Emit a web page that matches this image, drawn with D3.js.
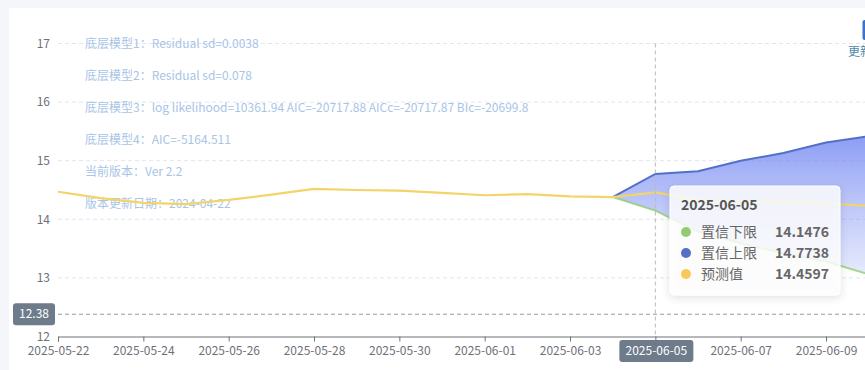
<!DOCTYPE html>
<html><head><meta charset="utf-8">
<script src="https://cdn.jsdelivr.net/npm/d3@7/dist/d3.min.js"></script>
<style>
html,body{margin:0;padding:0;background:#f4f6fa;overflow:hidden;}
svg{display:block;font-family:"Noto Sans CJK SC","Noto Sans",sans-serif;}
</style></head>
<body>
<svg id="c" width="865" height="370"></svg>
<script>
const dates = ['2025-05-22','2025-05-23','2025-05-24','2025-05-25','2025-05-26','2025-05-27','2025-05-28','2025-05-29','2025-05-30','2025-05-31','2025-06-01','2025-06-02','2025-06-03','2025-06-04','2025-06-05','2025-06-06','2025-06-07','2025-06-08','2025-06-09','2025-06-10'];
const predicted = [14.47,14.36,14.28,14.26,14.33,14.42,14.52,14.50,14.49,14.45,14.41,14.43,14.39,14.38,14.4597,14.33,14.29,14.29,14.27,14.23];
const upper = [null,null,null,null,null,null,null,null,null,null,null,null,null,14.38,14.7738,14.82,15.00,15.13,15.31,15.42];
const lower = [null,null,null,null,null,null,null,null,null,null,null,null,null,14.38,14.1476,13.79,13.59,13.42,13.28,13.06];
const yTicks = [12,13,14,15,16,17];
const xTickLabels = ['2025-05-22','2025-05-24','2025-05-26','2025-05-28','2025-05-30','2025-06-01','2025-06-03','2025-06-05','2025-06-07','2025-06-09'];
const notes = ['底层模型1：Residual sd=0.0038','底层模型2：Residual sd=0.078','底层模型3：log likelihood=10361.94 AIC=-20717.88 AICc=-20717.87 BIc=-20699.8','底层模型4：AIC=-5164.511','当前版本：Ver 2.2','版本更新日期：2024-04-22'];
const hoverDate = '2025-06-05';
const hoverY = 12.38;
const seriesNames = ['置信下限','置信上限','预测值'];
const seriesColors = ['#91cc75','#5470c6','#fac858'];

const parse = d3.utcParse('%Y-%m-%d');
const fmt = d3.utcFormat('%Y-%m-%d');
const svg = d3.select('#c');
svg.append('rect').attr('x',9).attr('y',8).attr('width',900).attr('height',400).attr('fill','#fff');

const x = d3.scaleUtc().domain([parse('2025-05-22'), parse('2025-06-10')]).range([58, 868.7]);
const y = d3.scaleLinear().domain([12,17]).range([336.5,43.5]);

const defs = svg.append('defs');
const grad = defs.append('linearGradient').attr('id','bandGrad').attr('x1',0).attr('y1',0).attr('x2',0).attr('y2',1);
grad.append('stop').attr('offset','0%').attr('stop-color','#6f84f2').attr('stop-opacity',0.8);
grad.append('stop').attr('offset','100%').attr('stop-color','#8e9ff5').attr('stop-opacity',0.22);
const sh = defs.append('filter').attr('id','shadow').attr('x','-20%').attr('y','-20%').attr('width','140%').attr('height','150%');
sh.append('feDropShadow').attr('dx',0).attr('dy',2).attr('stdDeviation',4).attr('flood-color','#000').attr('flood-opacity',0.15);

// grid
svg.append('g').selectAll('line').data(yTicks.filter(d=>d>12)).join('line')
  .attr('x1',58).attr('x2',870).attr('y1',d=>y(d)).attr('y2',d=>y(d))
  .attr('stroke','#e0e6f1').attr('stroke-dasharray','4,3');

// y labels
svg.append('g').selectAll('text').data(yTicks).join('text')
  .attr('x',50).attr('y',d=>y(d)).attr('dy','0.35em').attr('text-anchor','end')
  .attr('font-size',12).attr('fill','#6e7079').text(d=>d);

// notes
svg.append('g').selectAll('text').data(notes).join('text')
  .attr('x',85).attr('y',(d,i)=>44+i*32).attr('dy','0.35em')
  .attr('font-size',12).attr('fill','#a9c4e6').text(d=>d);

const rows = dates.map((d,i)=>({date:parse(d), p:predicted[i], u:upper[i], l:lower[i]}));
const band = rows.filter(r=>r.u!=null);

svg.append('path').datum(band)
  .attr('d', d3.area().x(r=>x(r.date)).y0(r=>y(r.l)).y1(r=>y(r.u)))
  .attr('fill','url(#bandGrad)');

svg.append('path').datum(band)
  .attr('d', d3.line().x(r=>x(r.date)).y(r=>y(r.l)))
  .attr('fill','none').attr('stroke',seriesColors[0]).attr('stroke-width',2).attr('stroke-opacity',0.8);
svg.append('path').datum(band)
  .attr('d', d3.line().x(r=>x(r.date)).y(r=>y(r.u)))
  .attr('fill','none').attr('stroke',seriesColors[1]).attr('stroke-width',2);
svg.append('path').datum(rows)
  .attr('d', d3.line().x(r=>x(r.date)).y(r=>y(r.p)))
  .attr('fill','none').attr('stroke','#f3d46a').attr('stroke-width',2.2);

// crosshair
svg.append('line').attr('x1',x(parse(hoverDate))).attr('x2',x(parse(hoverDate))).attr('y1',y(17)).attr('y2',y(12))
  .attr('stroke','#bbb').attr('stroke-dasharray','4,3');
svg.append('line').attr('x1',58).attr('x2',870).attr('y1',y(hoverY)).attr('y2',y(hoverY))
  .attr('stroke','#999').attr('stroke-dasharray','4,3');

// x axis
const xa = svg.append('g').attr('transform',`translate(0,${y(12)})`)
  .call(d3.axisBottom(x).tickValues(xTickLabels.map(parse)).tickFormat(fmt).tickSizeOuter(0).tickSize(5));
xa.select('.domain').attr('stroke','#6e7079');
xa.selectAll('.tick line').attr('stroke','#6e7079');
xa.selectAll('.tick text').attr('fill','#6e7079').attr('font-size',12).attr('dy','0.9em')
  .attr('font-family','"Noto Sans CJK SC","Noto Sans",sans-serif')
  .style('display',d=>fmt(d)===hoverDate?'none':null);

// axis pointer labels
const hx = x(parse(hoverDate));
svg.append('rect').attr('x',hx-36).attr('y',340).attr('width',74).attr('height',22).attr('rx',3).attr('fill','#6e7b8b');
svg.append('text').attr('x',hx+1).attr('y',351).attr('dy','0.35em').attr('text-anchor','middle').attr('fill','#fff').attr('font-size',12).text(hoverDate);
svg.append('rect').attr('x',13).attr('y',y(hoverY)-11).attr('width',42).attr('height',22).attr('rx',3).attr('fill','#6e7b8b');
svg.append('text').attr('x',34).attr('y',y(hoverY)).attr('dy','0.35em').attr('text-anchor','middle').attr('fill','#fff').attr('font-size',12).text(hoverY);

// top-right button remnant
svg.append('rect').attr('x',862.5).attr('y',20).attr('width',10).attr('height',20).attr('rx',2).attr('fill','#3a74cc');
svg.append('text').attr('x',848).attr('y',52).attr('dy','0.35em').attr('font-size',12).attr('fill','#4f8aa6').text('更新说明');

// tooltip
const tip = svg.append('g').attr('transform','translate(670,186)');
tip.append('rect').attr('width',170).attr('height',109).attr('rx',4).attr('fill','rgba(255,255,255,0.82)')
  .attr('stroke','#fff').attr('filter','url(#shadow)');
tip.append('text').attr('x',11).attr('y',19).attr('dy','0.35em').attr('font-size',14).attr('font-weight','bold').attr('fill','#555').text(hoverDate);
const hi = dates.indexOf(hoverDate);
const vals = [lower[hi], upper[hi], predicted[hi]];
seriesNames.forEach((n,i)=>{
  const ry = 46 + i*21;
  tip.append('circle').attr('cx',16).attr('cy',ry).attr('r',5).attr('fill',seriesColors[i]);
  tip.append('text').attr('x',31).attr('y',ry).attr('dy','0.35em').attr('font-size',14).attr('fill','#666').text(n);
  tip.append('text').attr('x',159).attr('y',ry).attr('dy','0.35em').attr('text-anchor','end').attr('font-size',14).attr('font-weight','bold').attr('fill','#666').text(vals[i].toFixed(4));
});
</script>
</body></html>
